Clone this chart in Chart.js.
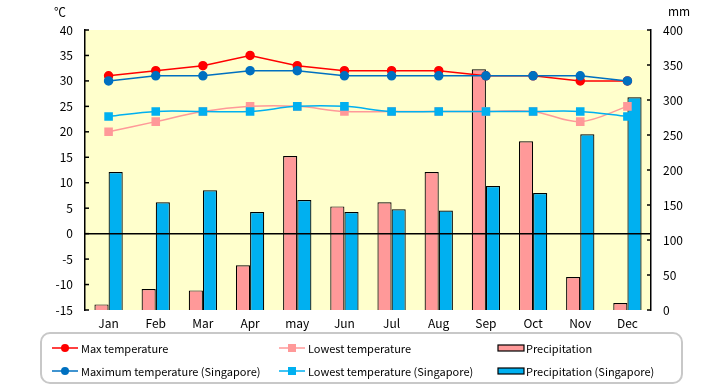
<!DOCTYPE html>
<html>
<head>
<meta charset="utf-8">
<script src="https://cdn.jsdelivr.net/npm/chart.js@4.4.1/dist/chart.umd.min.js"></script>
<style>
html,body{margin:0;padding:0;background:#fff;}
#wrap{width:720px;height:385px;position:relative;}
</style>
</head>
<body>
<div id="wrap"><canvas id="c" width="720" height="385"></canvas></div>
<script>
const months = ['Jan','Feb','Mar','Apr','may','Jun','Jul','Aug','Sep','Oct','Nov','Dec'];
const maxTemp = [31,32,33,35,33,32,32,32,31,31,30,30];
const lowTemp = [20,22,24,25,25,24,24,24,24,24,22,25];
const precip = [8,30,28,64,220,148,154,197,344,241,47,10];
const maxTempSg = [30,31,31,32,32,31,31,31,31,31,31,30];
const lowTempSg = [23,24,24,24,25,25,24,24,24,24,24,23];
const precipSg = [197,154,171,140,157,140,144,142,177,167,251,304];
const tempTicks = {min:-15, max:40, step:5};
const rainTicks = {min:0, max:400, step:50};
const seriesNames = ['Max temperature','Lowest temperature','Precipitation',
  'Maximum temperature (Singapore)','Lowest temperature (Singapore)','Precipitation (Singapore)'];

const FONT = "'Noto Sans CJK JP', 'DejaVu Sans', sans-serif";
Chart.defaults.font.family = FONT;
Chart.defaults.font.size = 12;
Chart.defaults.color = '#000';

const C = {
  red:'#FF0000', pink:'#FF9999', navy:'#0070C0', cyan:'#00B0F0', bg:'#FFFFCC'
};

const decor = {
  id:'decor',
  beforeDraw(chart){
    const {ctx, chartArea:a} = chart;
    ctx.save();
    ctx.fillStyle = C.bg;
    ctx.fillRect(a.left, a.top, a.right-a.left, a.bottom-a.top);
    ctx.restore();
  },
  afterDatasetsDraw(chart){
    const {ctx, chartArea:a, scales} = chart;
    ctx.save();
    const y0 = scales.y.getPixelForValue(0);
    ctx.strokeStyle = '#000'; ctx.lineWidth = 1.5;
    ctx.beginPath(); ctx.moveTo(a.left, y0); ctx.lineTo(a.right, y0); ctx.stroke();
    ctx.restore();
  },
  afterDraw(chart){
    const {ctx, chartArea:a, scales} = chart;
    ctx.save();
    ctx.strokeStyle = '#000'; ctx.lineWidth = 1.5;
    scales.y.ticks.forEach(t=>{
      const y = scales.y.getPixelForValue(t.value);
      ctx.beginPath(); ctx.moveTo(a.left, y); ctx.lineTo(a.left+4, y); ctx.stroke();
    });
    scales.y1.ticks.forEach(t=>{
      const y = scales.y1.getPixelForValue(t.value);
      ctx.beginPath(); ctx.moveTo(a.right-4, y); ctx.lineTo(a.right, y); ctx.stroke();
    });
    ctx.fillStyle = '#000';
    ctx.font = '12px ' + FONT;
    ctx.textBaseline = 'middle';
    ctx.textAlign = 'left';
    ctx.fillText('℃', a.left-31, 12);
    ctx.fillText('mm', a.right+17, 11);

    // legend
    const L = {x:41, y:333, w:641, h:50};
    ctx.strokeStyle = '#C8C8C8'; ctx.lineWidth = 2;
    ctx.beginPath();
    ctx.roundRect(L.x, L.y, L.w, L.h, 9);
    ctx.stroke();
    const cols = [52, 279, 498];
    const rows = [348, 371];
    const ds = chart.data.datasets;
    ds.forEach((d,i)=>{
      const col = i % 3, row = Math.floor(i/3);
      const x = cols[col], y = rows[row];
      let tx;
      if (d.type === 'bar') {
        ctx.fillStyle = d.backgroundColor;
        ctx.fillRect(x, y-3, 26, 6);
        ctx.strokeStyle = '#000'; ctx.lineWidth = 1.2;
        ctx.strokeRect(x, y-3, 26, 6);
        tx = x + 28;
      } else {
        ctx.strokeStyle = d.borderColor; ctx.lineWidth = 1.5;
        ctx.beginPath(); ctx.moveTo(x, y); ctx.lineTo(x+26, y); ctx.stroke();
        ctx.fillStyle = d.pointBackgroundColor;
        if (d.pointStyle === 'rect') {
          ctx.fillRect(x+13-4, y-4, 8, 8);
        } else {
          ctx.beginPath(); ctx.arc(x+13, y, 4, 0, Math.PI*2); ctx.fill();
        }
        tx = x + 29;
      }
      ctx.fillStyle = '#000';
      ctx.font = '11px ' + FONT;
      ctx.textAlign = 'left'; ctx.textBaseline = 'middle';
      ctx.fillText(d.label, tx, y+1);
    });
    ctx.restore();
  }
};

const lineBase = {type:'line', yAxisID:'y', borderWidth:1.5, pointRadius:4, pointHoverRadius:4, fill:false};

new Chart(document.getElementById('c'), {
  data: {
    labels: months,
    datasets: [
      Object.assign({}, lineBase, {label:seriesNames[0], data:maxTemp, borderColor:C.red,
        pointBackgroundColor:C.red, pointBorderColor:C.red, pointStyle:'circle', tension:0, order:3}),
      Object.assign({}, lineBase, {label:seriesNames[1], data:lowTemp, borderColor:C.pink,
        pointBackgroundColor:C.pink, pointBorderColor:C.pink, pointStyle:'rect', pointRadius:5, tension:0.35, order:4}),
      {type:'bar', label:seriesNames[2], data:precip, yAxisID:'y1', backgroundColor:C.pink,
        borderColor:'#000', borderWidth:1.2, order:10, barPercentage:1, categoryPercentage:0.6},
      Object.assign({}, lineBase, {label:seriesNames[3], data:maxTempSg, borderColor:C.navy,
        pointBackgroundColor:C.navy, pointBorderColor:C.navy, pointStyle:'circle', tension:0, order:1}),
      Object.assign({}, lineBase, {label:seriesNames[4], data:lowTempSg, borderColor:C.cyan,
        pointBackgroundColor:C.cyan, pointBorderColor:C.cyan, pointStyle:'rect', pointRadius:5, tension:0.35, order:2}),
      {type:'bar', label:seriesNames[5], data:precipSg, yAxisID:'y1', backgroundColor:C.cyan,
        borderColor:'#000', borderWidth:1.2, order:10, barPercentage:1, categoryPercentage:0.6}
    ]
  },
  options: {
    responsive:false,
    animation:false,
    devicePixelRatio:1,
    layout:{padding:{top:30, bottom:0, left:0, right:0}},
    plugins:{legend:{display:false}, tooltip:{enabled:false}},
    scales:{
      x:{
        grid:{display:false, drawTicks:false},
        border:{display:false},
        ticks:{padding:6, font:{size:12}},
        afterFit(s){ s.height = 75; }
      },
      y:{
        position:'left',
        min:tempTicks.min, max:tempTicks.max,
        ticks:{stepSize:tempTicks.step, padding:12, font:{size:12}},
        grid:{display:false, drawTicks:false},
        border:{display:true, color:'#000', width:1.5},
        afterFit(s){ s.width = 85; }
      },
      y1:{
        position:'right',
        min:rainTicks.min, max:rainTicks.max,
        ticks:{stepSize:rainTicks.step, padding:12, font:{size:12}},
        grid:{display:false, drawTicks:false},
        border:{display:true, color:'#000', width:1.5},
        afterFit(s){ s.width = 69; }
      }
    }
  },
  plugins:[decor]
});
</script>
</body>
</html>
